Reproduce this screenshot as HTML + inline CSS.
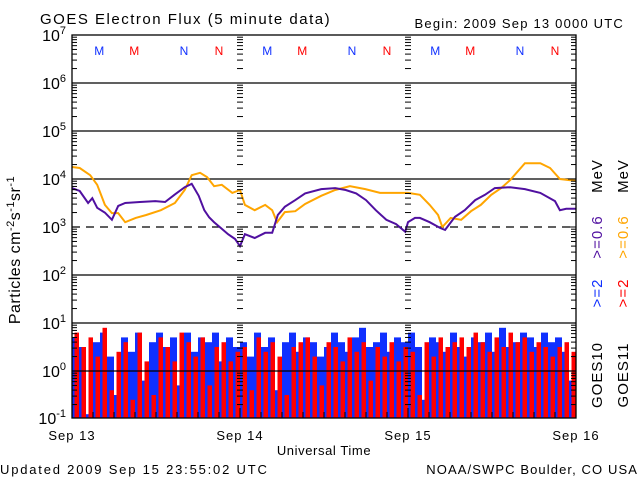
<!DOCTYPE html>
<html><head><meta charset="utf-8"><style>
html,body{margin:0;padding:0;background:#fff;}
svg{display:block;font-family:"Liberation Sans","DejaVu Sans",sans-serif;}
</style></head><body>
<svg id="chart" width="640" height="480" viewBox="0 0 640 480">
<text x="40" y="24" font-size="15" letter-spacing="1.5">GOES Electron Flux (5 minute data)</text>
<text x="624" y="28" font-size="13" letter-spacing="1.2" text-anchor="end">Begin: 2009 Sep 13 0000 UTC</text>
<text x="0" y="474" font-size="13" letter-spacing="1.8">Updated 2009 Sep 15 23:55:02 UTC</text>
<text x="638" y="474" font-size="13" letter-spacing="1.1" text-anchor="end">NOAA/SWPC Boulder, CO USA</text>
<text x="324" y="455" font-size="13" letter-spacing="0.6" text-anchor="middle">Universal Time</text>
<text transform="translate(20,250) rotate(-90)" font-size="16" letter-spacing="0.5" text-anchor="middle">Particles cm<tspan dy="-6" font-size="11">-2</tspan><tspan dy="6">s</tspan><tspan dy="-6" font-size="11">-1</tspan><tspan dy="6">sr</tspan><tspan dy="-6" font-size="11">-1</tspan></text>
<g id="legend" font-size="15" letter-spacing="1">
<text transform="translate(602,176) rotate(-90)" text-anchor="middle" fill="#000">MeV</text>
<text transform="translate(602,237) rotate(-90)" text-anchor="middle" fill="#5010a0">&gt;=0.6</text>
<text transform="translate(602,293) rotate(-90)" text-anchor="middle" fill="#1030ff">&gt;=2</text>
<text transform="translate(602,375) rotate(-90)" text-anchor="middle" fill="#000">GOES10</text>
<text transform="translate(628,176) rotate(-90)" text-anchor="middle" fill="#000">MeV</text>
<text transform="translate(628,237) rotate(-90)" text-anchor="middle" fill="#ffa500">&gt;=0.6</text>
<text transform="translate(628,293) rotate(-90)" text-anchor="middle" fill="#ff0000">&gt;=2</text>
<text transform="translate(628,375) rotate(-90)" text-anchor="middle" fill="#000">GOES11</text>
</g>
<g id="plot"></g>
</svg>
<script>
const dayLabels = ["Sep 13","Sep 14","Sep 15","Sep 16"];
const yTickExp = [7,6,5,4,3,2,1,0,-1];
const hoursP = [0,1.1,2.3,2.9,3.6,4.7,5.7,6.6,7.6,9.7,11.9,13.3,14.7,16.1,17.1,18.1,18.9,19.6,20.3,21.1,22.3,23.3,24,24.7,26.1,27.6,28.6,29.4,30.4,31.9,33.3,35.6,37.6,39.1,40.6,42,43.4,44.9,46.3,47.6,48,49,49.7,51.1,52.6,53.3,54.7,56.1,57.6,59,60.4,62.6,64.7,66.9,69,69.7,70.6,72];
const logP  = [3.81,3.75,3.5,3.6,3.4,3.3,3.15,3.44,3.5,3.52,3.54,3.52,3.68,3.83,3.9,3.65,3.35,3.2,3.1,3.0,2.85,2.75,2.6,2.85,2.77,2.88,2.88,3.25,3.42,3.56,3.7,3.79,3.81,3.77,3.7,3.56,3.35,3.15,3.06,2.9,3.1,3.19,3.19,3.1,2.98,2.94,3.21,3.35,3.56,3.67,3.81,3.83,3.79,3.71,3.54,3.35,3.38,3.38];
const hoursO = [0,1.1,2.6,3.6,4.7,5.7,6.6,7.6,9.1,10.6,12.7,14.7,16.1,17.1,18.3,19.3,20.3,21.4,22.9,24,24.7,26.1,27.6,28.6,29.3,30.4,31.9,33.3,35.6,37.6,39.7,41.9,44,46.1,48,49.7,51.1,52.3,52.9,54.1,55.6,57,58.4,59.9,61.3,62.6,64.7,66.9,68.3,69.7,72];
const logO  = [4.25,4.23,4.08,3.88,3.46,3.29,3.29,3.1,3.19,3.25,3.35,3.5,3.77,4.08,4.13,4.04,3.85,3.88,3.71,3.77,3.46,3.35,3.46,3.35,3.1,3.31,3.33,3.48,3.65,3.77,3.85,3.79,3.71,3.71,3.71,3.67,3.46,3.25,3.0,3.19,3.15,3.33,3.46,3.67,3.81,3.98,4.33,4.33,4.23,4.0,3.96];
const blueLog = [0.7,0.5,-0.9,0.6,0.8,0.3,-0.5,0.7,0.4,0.8,-0.2,0.6,0.8,0.5,0.7,-0.3,0.8,0.4,0.7,0.6,0.8,0.2,0.7,0.5,
0.6,0.3,0.8,0.5,0.7,-0.4,0.6,0.8,0.4,0.7,0.6,0.3,0.5,0.8,0.6,0.4,0.7,0.9,0.5,0.6,0.8,0.4,0.7,0.6,
0.8,0.5,-0.6,0.7,0.6,0.4,0.8,0.5,0.3,0.7,0.6,0.8,0.4,0.9,0.5,0.6,0.8,0.7,0.5,0.8,0.6,0.7,0.4,-0.2];
const redLog = [0.8,0.5,0.7,0.3,0.9,-0.4,0.4,0.6,-0.6,0.8,0.2,-0.5,0.7,0.5,0.2,0.8,0.6,0.3,0.7,-0.3,0.5,0.6,0.2,0.4,
0.5,-0.4,0.7,0.4,0.6,0.3,-0.5,0.5,0.6,0.7,0.3,-0.3,0.6,0.5,0.2,0.7,0.4,0.6,-0.2,0.5,0.3,0.6,0.2,0.5,
0.4,-0.5,0.6,0.3,0.7,0.5,0.6,0.7,0.5,0.8,0.6,0.4,0.7,0.5,0.8,0.6,0.7,0.4,0.6,0.5,0.3,0.5,0.6,0.4];
const satLetters = ["M","M","N","N"];
const letterHours = [3.9,8.9,16.0,21.0];

const X0=72, X1=576, Y7=35, DEC=48, YB=418;
const NS="http://www.w3.org/2000/svg";
const xs = h => X0 + (X1-X0)*h/72;
const ys = l => Math.min(YB, Y7 + (7-l)*DEC);
const g = document.getElementById('plot');
function el(tag, attrs, parent){const e=document.createElementNS(NS,tag);for(const k in attrs)e.setAttribute(k,attrs[k]);(parent||g).appendChild(e);return e;}

blueLog.forEach((v,i)=>{
  const r=el('rect',{x:xs(i),y:ys(v),width:7,height:YB-ys(v),fill:'#1030ff'});
  
  
});
redLog.forEach((v,i)=>{
  const r=el('rect',{x:xs(i)+2.5,y:ys(v),width:4.5,height:YB-ys(v),fill:'#ff0000'});
  
  
});
yTickExp.forEach(e=>{
  if(e===7||e===-1) return;
  const ln=el('line',{x1:X0,x2:X1,y1:ys(e),y2:ys(e),stroke:'#000','stroke-width':1.3,'stroke-dasharray':e===3?'8,6':''});
  
  
});
function line(hs,ls,color,name){
  let d='';hs.forEach((h,i)=>{d+=(i?'L':'M')+xs(h).toFixed(1)+','+ys(ls[i]).toFixed(1);});
  const p=el('path',{d:d,fill:'none',stroke:color,'stroke-width':2});
  
  
}
line(hoursO,logO,'#ffa500','goes11-0.6mev-line');
line(hoursP,logP,'#5010a0','goes10-0.6mev-line');
const fr=el('rect',{x:X0,y:Y7,width:X1-X0,height:YB-Y7,fill:'none',stroke:'#000','stroke-width':1.3});


const mk=[];
for(let e=-1;e<7;e++)for(let m=1;m<10;m++){const y=ys(e+Math.log10(m));if(y<YB&&y>=Y7)mk.push([y,m===1]);}
mk.push([ys(7),true]);
mk.forEach(([y,maj])=>{
  const L=maj?8:5;
  [[X0,X0+L],[X1-L,X1]].forEach(([a,b])=>el('line',{x1:a,x2:b,y1:y,y2:y,stroke:'#000','stroke-width':1}));
  [1,2].forEach(d=>{const xc=X0+168*d;el('line',{x1:xc-3,x2:xc+3,y1:y,y2:y,stroke:'#000','stroke-width':1});});
});
yTickExp.forEach(e=>{
  const t=el('text',{x:66,y:ys(e)+6,'font-size':16,'text-anchor':'end'});
  t.textContent='10';
  const s=el('tspan',{dy:-7,'font-size':11},t);s.textContent=String(e);
  
  
});
for(let h=3;h<72;h+=3){el('line',{x1:xs(h),x2:xs(h),y1:YB,y2:YB-(h%24?6:10),stroke:'#000','stroke-width':1});}
dayLabels.forEach((d,i)=>{
  const t=el('text',{x:xs(i*24),y:440,'font-size':13,'letter-spacing':1,'text-anchor':'middle'});
  t.textContent=d;
  
  
});
for(let day=0;day<3;day++)satLetters.forEach((L,i)=>{
  const t=el('text',{x:xs(day*24+letterHours[i]),y:55,'font-size':12,'text-anchor':'middle',fill:i%2?'#ff0000':'#1030ff'});
  t.textContent=L;
  
  
});
</script>
</body></html>
